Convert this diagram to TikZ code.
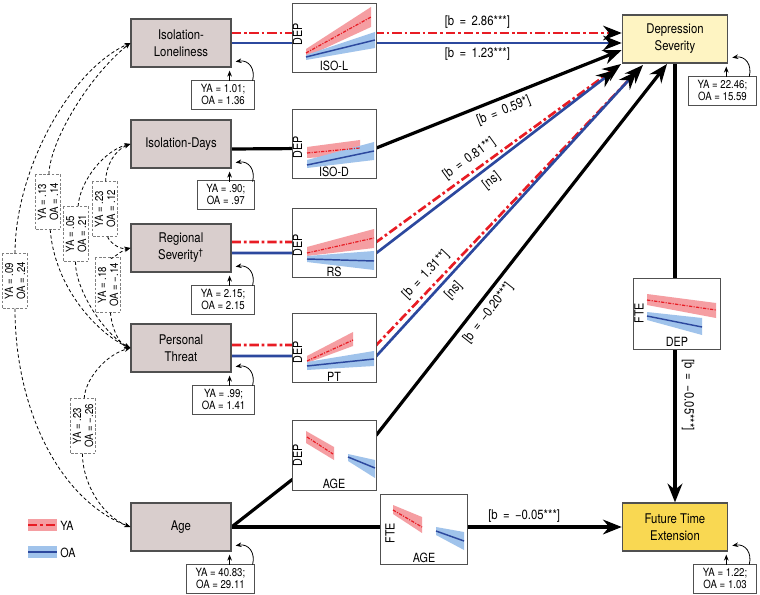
\documentclass[tikz,border=0pt]{standalone}
\usepackage{fontspec}
\setmainfont{TeX Gyre Heros}[FakeStretch=0.85]
\usepackage{tikz}
\usetikzlibrary{arrows.meta,backgrounds,calc}

\definecolor{boxgray}{RGB}{217,206,205}
\definecolor{edgegray}{RGB}{80,80,80}
\definecolor{depyellow}{RGB}{254,244,194}
\definecolor{fteyellow}{RGB}{249,216,82}
\definecolor{yared}{RGB}{232,28,36}
\definecolor{yaband}{RGB}{245,158,162}
\definecolor{oablue}{RGB}{44,72,158}
\definecolor{oaband}{RGB}{160,195,235}

\begin{document}
\begin{tikzpicture}[x=0.75pt,y=0.75pt,yscale=-1,xscale=1,
  varbox/.style={draw=edgegray,fill=boxgray,line width=0.9pt,minimum width=75pt,minimum height=36pt,align=center,inner sep=1pt,font={\fontsize{10}{12.75}\selectfont}},
  outbox/.style={varbox,minimum width=79pt},
  varnote/.style={draw=edgegray,fill=white,line width=0.6pt,align=center,inner xsep=7pt,inner ysep=1pt,minimum height=21.75pt,font={\fontsize{8.5}{9}\selectfont}},
  plotbox/.style={draw=edgegray,fill=white,line width=0.6pt,minimum width=63pt,minimum height=51.75pt},
  axlbl/.style={inner sep=0pt,font={\fontsize{9.5}{10}\selectfont}},
  covlbl/.style={draw=gray,dash pattern=on 2pt off 1.2pt,fill=white,rotate=90,align=center,inner sep=1.8pt,minimum width=41pt,font={\fontsize{8.5}{9}\selectfont}},
  coef/.style={inner sep=2.5pt,text=black,font={\fontsize{10}{12}\selectfont\spaceskip=4pt\relax}},
  slcoef/.style={coef,inner sep=3.8pt},
  yaline/.style={yared,line width=2pt,dash pattern=on 7pt off 2.2pt on 2pt off 2.2pt},
  oaline/.style={oablue,line width=2pt},
  bkline/.style={black,line width=2.4pt},
  bigtip/.style={-{Stealth[length=14pt,width=11pt,color=black]}},
  cov/.style={line width=0.6pt,dash pattern=on 2.5pt off 1.8pt},
  covtip/.style={-{Stealth[length=4.5pt,width=3.5pt]}},
  yafit/.style={yared,line width=0.9pt,dash pattern=on 2.5pt off 1pt on 0.8pt off 1pt},
  oafit/.style={oablue,line width=1.1pt}
]
%set diagram area to 760 x 595
\useasboundingbox (0,0) rectangle (760,595);

%Shape: Rectangle [predictors]
\node[varbox] (isol) at (181,43) {Isolation-\\Loneliness};
\node[varbox] (isod) at (181,144) {Isolation-Days};
\node[varbox] (rs) at (181,248) {Regional\\Severity\textsuperscript{†}};
\node[varbox] (pt) at (181,348) {Personal\\Threat};
\node[varbox] (age) at (181,527) {Age};
%Shape: Rectangle [outcomes]
\node[outbox,fill=depyellow] (dep) at (675,39) {Depression\\Severity};
\node[outbox,fill=fteyellow] (fte) at (675,527) {Future Time\\Extension};

% Text Node [variances]
\node[varnote,anchor=north east] (isolv) at (255,80) {YA = 1.01;\\OA = 1.36};
\node[varnote,anchor=north east] (isodv) at (255,180) {YA = .90;\\OA = .97};
\node[varnote,anchor=north east] (rsv) at (255,285) {YA = 2.15;\\OA = 2.15};
\node[varnote,anchor=north east] (ptv) at (255,385) {YA = .99;\\OA = 1.41};
\node[varnote,anchor=north east] (agev) at (255,564) {YA = 40.83;\\OA = 29.11};
\node[varnote,anchor=north east] (depv) at (757,76) {YA = 22.46;\\OA = 15.59};
\node[varnote,anchor=north east] (ftev) at (757,564) {YA = 1.22;\\OA = 1.03};

%Curved Lines [variance loops]
\foreach \v in {isol,isod,rs,pt,age,dep,fte}{
  \draw[covtip,line width=0.6pt] ($(\v.south east)+(-2,13)$) -- ($(\v.south east)+(-2,3)$);
  \draw[covtip,line width=0.6pt] ($(\v.south east)+(21,13)$) .. controls ($(\v.south east)+(24,1)$) and ($(\v.south east)+(17,-8)$) .. ($(\v.south east)+(4,-6)$);
}

%Shape: Rectangle [inset plots]
\node[plotbox] (pisol) at (334,37.5) {};
\node[plotbox] (pisod) at (334,143.5) {};
\node[plotbox] (prs) at (334,242.5) {};
\node[plotbox] (ppt) at (334,347.5) {};
\node[plotbox,minimum height=52.5pt] (pagedep) at (334,455) {};
\node[plotbox,minimum width=65.25pt,minimum height=52.5pt] (pagefte) at (423.5,529) {};
\node[plotbox,minimum width=65.25pt,minimum height=53.25pt] (pdepfte) at (676.5,313.5) {};

%Plot: ISO-L
\fill[yaband] (306,49) -- (371,7) -- (371,27) -- (306,57) -- cycle;
\fill[oaband] (306,55) -- (375,32) -- (375,48) -- (306,60) -- cycle;
\draw[yafit] (306,53) -- (371,17);
\draw[oafit] (306,57) -- (375,40);
\node[axlbl,rotate=90] (yisol) at (297.5,34) {DEP};
\node[axlbl] (xisol) at (334,66) {ISO-L};
%Plot: ISO-D
\fill[yaband] (307,147) -- (360,140) -- (360,155) -- (307,158) -- cycle;
\fill[oaband] (307,160) -- (374,142) -- (374,160) -- (307,168) -- cycle;
\draw[yafit] (307,153) -- (360,148);
\draw[oafit] (307,165) -- (374,151);
\node[axlbl,rotate=90] (yisod) at (297.5,147) {DEP};
\node[axlbl] (xisod) at (334,172) {ISO-D};
%Plot: RS
\fill[yaband] (307,247) -- (374,229) -- (374,248) -- (307,256) -- cycle;
\fill[oaband] (307,256) -- (374,251) -- (374,270) -- (307,262) -- cycle;
\draw[yafit] (307,253) -- (374,238);
\draw[oafit] (307,259) -- (374,261);
\node[axlbl,rotate=90] (yrs) at (297.5,245) {DEP};
\node[axlbl] (xrs) at (334,272) {RS};
%Plot: PT
\fill[yaband] (307,356) -- (353,332) -- (353,346) -- (307,363) -- cycle;
\fill[oaband] (307,362) -- (374,351) -- (374,366) -- (307,370) -- cycle;
\draw[yafit] (307,361) -- (353,340);
\draw[oafit] (307,366) -- (374,359);
\node[axlbl,rotate=90] (ypt) at (297.5,352) {DEP};
\node[axlbl] (xpt) at (334,377) {PT};
%Plot: AGE on DEP
\fill[yaband] (306,431) -- (334,447) -- (334,460) -- (306,443) -- cycle;
\fill[oaband] (348,454) -- (375,460) -- (375,478) -- (348,461) -- cycle;
\draw[yafit] (307,437) -- (333,454);
\draw[oafit] (348,457) -- (375,468);
\node[axlbl,rotate=90] (yagedep) at (297.5,455) {DEP};
\node[axlbl] (xagedep) at (334,484) {AGE};
%Plot: AGE on FTE
\fill[yaband] (393,505) -- (422,517) -- (422,533) -- (393,514) -- cycle;
\fill[oaband] (436,527) -- (464,532) -- (464,550) -- (436,535) -- cycle;
\draw[yafit] (393,510) -- (422,527);
\draw[oafit] (436,531) -- (464,541);
\node[axlbl,rotate=90] (yagefte) at (390,533) {FTE};
\node[axlbl] (xagefte) at (424,558) {AGE};
%Plot: DEP on FTE
\fill[yaband] (647,294) -- (716,303) -- (716,318) -- (647,305) -- cycle;
\fill[oaband] (647,312) -- (702,318) -- (702,335) -- (647,320) -- cycle;
\draw[yafit] (647,300) -- (716,310);
\draw[oafit] (647,316) -- (702,327);
\node[axlbl,rotate=90] (ydepfte) at (639,313) {FTE};
\node[axlbl] (xdepfte) at (677,342) {DEP};

%Arrow ends at Depression Severity
\coordinate (tRSya) at (621,64);
\coordinate (tRSoa) at (615,70);
\coordinate (tPTya) at (643,65);
\coordinate (tPToa) at (637,71);
\coordinate (tAGE) at (667,64);

%Straight Lines [paths]
\begin{scope}[on background layer]
\draw[yaline,bigtip] ($(isol.east)+(0,-10)$) -- ($(dep.west)+(0,-6)$) node[coef,pos=0.63,above] {[b = 2.86***]};
\draw[oaline,bigtip] (isol.east) -- ($(dep.west)+(0,4)$) node[coef,pos=0.63,below] {[b = 1.23***]};
\draw[bkline,bigtip] ($(isod.east)+(0,5)$) -- ($(pisod.east)+(0,4.5)$) -- ($(dep.west)+(0,11)$) node[slcoef,pos=0.5,rotate=21.8,anchor=north] {[b = 0.59*]};
\draw[yaline,bigtip] ($(rs.east)+(0,-6)$) -- ($(prs.east)+(0,-0.5)$) -- (tRSya) node[slcoef,pos=0.41,rotate=36,anchor=south] {[b = 0.81**]};
\draw[oaline,bigtip] ($(rs.east)+(0,5)$) -- ($(prs.east)+(0,10.5)$) -- (tRSoa) node[slcoef,pos=0.45,rotate=37.4,anchor=north] {[ns]};
\draw[yaline,bigtip] ($(pt.east)+(0,-3)$) -- ($(ppt.east)+(0,-2.5)$) -- (tPTya) node[slcoef,pos=0.22,rotate=46.4,anchor=south] {[b = 1.31**]};
\draw[oaline,bigtip] ($(pt.east)+(0,8)$) -- ($(ppt.east)+(0,8.5)$) -- (tPToa) node[slcoef,pos=0.26,rotate=47.5,anchor=north] {[ns]};
\draw[bkline,bigtip] (age.east) -- ($(pagedep.west)+(0,25)$) -- ($(pagedep.east)+(0,-20)$) -- (tAGE) node[slcoef,pos=0.35,rotate=51.9,anchor=north] {[b = −0.20***]};
\draw[bkline,bigtip] (age.east) -- (fte.west) node[coef,pos=0.75,above] {[b = −0.05***]};
\draw[bkline,bigtip] (dep.south) -- (fte.north) node[slcoef,pos=0.755,rotate=-90,anchor=south] {[b = −0.05***]};
\end{scope}

% Text Node [covariances]
\node[covlbl] (c1) at (15,281) {YA = .09\\OA = .24};
\node[covlbl] (c2) at (48,202) {YA = .13\\OA = .14};
\node[covlbl] (c3) at (76,234) {YA = .05\\OA = .21};
\node[covlbl] (c4) at (105,209) {YA = .23\\OA = .12};
\node[covlbl] (c5) at (108,285) {YA = .18\\OA = −.14};
\node[covlbl] (c6) at (83,426) {YA = .23\\OA = −.26};

%Curved Lines [covariances]
\draw[cov,covtip] (c1) .. controls (15,170) and (70,70) .. (isol.west);
\draw[cov,covtip] (c1) .. controls (15,410) and (60,500) .. (age.west);
\draw[cov,covtip] (c2) .. controls (50,140) and (90,75) .. (isol.west);
\draw[cov,covtip] (c2) .. controls (55,290) and (100,335) .. (pt.west);
\draw[cov,covtip] (c3) .. controls (80,180) and (105,150) .. (isod.west);
\draw[cov,covtip] (c3) .. controls (75,290) and (105,335) .. (pt.west);
\draw[cov,covtip] (c4) .. controls (106,165) and (115,150) .. (isod.west);
\draw[cov,covtip] (c4) .. controls (108,240) and (118,250) .. (rs.west);
\draw[cov,covtip] (c5) .. controls (110,262) and (118,252) .. (rs.west);
\draw[cov,covtip] (c5) .. controls (112,330) and (120,345) .. (pt.west);
\draw[cov,covtip] (c6) .. controls (85,380) and (105,355) .. (pt.west);
\draw[cov,covtip] (c6) .. controls (82,480) and (100,515) .. (age.west);

%Legend
\fill[yaband] (28,519) rectangle (57,531);
\draw[yaline] (28,525) -- (57,525);
\node[axlbl,anchor=west,font={\fontsize{9.5}{11}\selectfont}] (legya) at (60,526) {YA};
\fill[oaband] (28,546) rectangle (57,558);
\draw[oaline] (28,552) -- (57,552);
\node[axlbl,anchor=west,font={\fontsize{9.5}{11}\selectfont}] (legoa) at (60,553) {OA};

\end{tikzpicture}
\end{document}
